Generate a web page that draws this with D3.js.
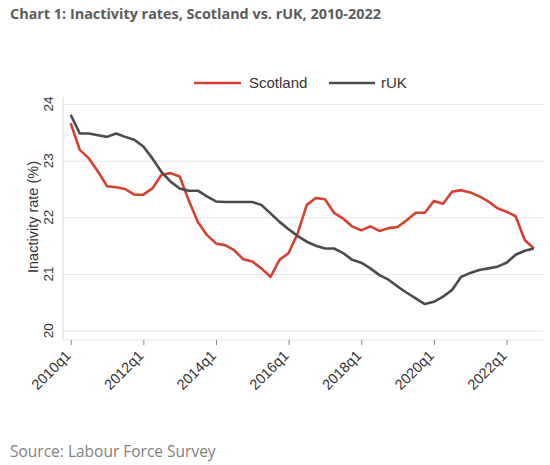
<!DOCTYPE html>
<html>
<head>
<meta charset="utf-8">
<script src="https://cdn.jsdelivr.net/npm/d3@7"></script>
<style>
  html, body { margin: 0; padding: 0; background: #fff; }
  svg { display: block; }
</style>
</head>
<body>
<svg id="chart" width="550" height="465"></svg>
<script>
const quarters = [
  "2010q1","2010q2","2010q3","2010q4","2011q1","2011q2","2011q3","2011q4",
  "2012q1","2012q2","2012q3","2012q4","2013q1","2013q2","2013q3","2013q4",
  "2014q1","2014q2","2014q3","2014q4","2015q1","2015q2","2015q3","2015q4",
  "2016q1","2016q2","2016q3","2016q4","2017q1","2017q2","2017q3","2017q4",
  "2018q1","2018q2","2018q3","2018q4","2019q1","2019q2","2019q3","2019q4",
  "2020q1","2020q2","2020q3","2020q4","2021q1","2021q2","2021q3","2021q4",
  "2022q1","2022q2","2022q3","2022q4"
];
const scotland = [
  23.66, 23.19, 23.04, 22.81, 22.55, 22.53, 22.50, 22.40,
  22.40, 22.51, 22.75, 22.78, 22.72, 22.30, 21.92, 21.69,
  21.54, 21.51, 21.42, 21.26, 21.22, 21.10, 20.95, 21.25,
  21.37, 21.72, 22.22, 22.34, 22.32, 22.08, 21.98, 21.84,
  21.77, 21.84, 21.76, 21.81, 21.83, 21.95, 22.08, 22.08,
  22.29, 22.24, 22.45, 22.48, 22.44, 22.37, 22.28, 22.16,
  22.10, 22.02, 21.60, 21.45
];
const rUK = [
  23.81, 23.48, 23.48, 23.45, 23.42, 23.48, 23.42, 23.37,
  23.25, 23.04, 22.80, 22.63, 22.51, 22.47, 22.47, 22.37,
  22.28, 22.27, 22.27, 22.27, 22.27, 22.22, 22.07, 21.92,
  21.79, 21.67, 21.57, 21.50, 21.45, 21.45, 21.37, 21.25,
  21.20, 21.10, 20.98, 20.90, 20.78, 20.67, 20.57, 20.47,
  20.51, 20.60, 20.72, 20.95, 21.02, 21.07, 21.10, 21.13,
  21.20, 21.34, 21.41, 21.45
];
const xTickLabels = ["2010q1","2012q1","2014q1","2016q1","2018q1","2020q1","2022q1"];
const yTickValues = [20, 21, 22, 23, 24];
const seriesNames = ["Scotland", "rUK"];
const seriesColors = ["#d5402f", "#4b4b4b"];

const svg = d3.select("#chart");
const plotLeft = 63, plotRight = 543, plotTop = 97, plotBottom = 340;

const x = d3.scalePoint().domain(quarters).range([70.7, 533.8]);
const y = d3.scaleLinear().domain([20, 24]).range([330.7, 104]);

// Title
svg.append("text")
  .attr("x", 10).attr("y", 19)
  .attr("font-family", "'Open Sans', sans-serif")
  .attr("font-weight", "bold")
  .attr("font-size", 14.4)
  .attr("fill", "#5b5b5b")
  .text("Chart 1: Inactivity rates, Scotland vs. rUK, 2010-2022");

// Gridlines
const grid = svg.append("g")
  .attr("transform", `translate(${plotLeft},0)`)
  .call(d3.axisLeft(y).tickValues(yTickValues).tickSize(-(plotRight - plotLeft)).tickFormat(""));
grid.select(".domain").remove();
grid.selectAll("line").attr("stroke", "#e6e6e6").attr("stroke-width", 1);

// Axis lines
svg.append("line")
  .attr("x1", plotLeft).attr("x2", plotLeft)
  .attr("y1", plotTop).attr("y2", plotBottom)
  .attr("stroke", "#d9d9d9").attr("stroke-width", 1);
svg.append("line")
  .attr("x1", plotLeft).attr("x2", plotRight)
  .attr("y1", plotBottom).attr("y2", plotBottom)
  .attr("stroke", "#e6e6e6").attr("stroke-width", 1);

// Y tick labels (rotated)
svg.append("g").selectAll("text")
  .data(yTickValues)
  .join("text")
  .attr("transform", d => `translate(48,${y(d)}) rotate(-90)`)
  .attr("text-anchor", "middle")
  .attr("dy", "0.35em")
  .attr("font-family", "'Liberation Sans', Arial, sans-serif")
  .attr("font-size", 13.5)
  .attr("fill", "#333")
  .text(d => d);

// Y axis title
svg.append("text")
  .attr("transform", `translate(33,217) rotate(-90)`)
  .attr("text-anchor", "middle")
  .attr("dy", "0.35em")
  .attr("font-family", "'Liberation Sans', Arial, sans-serif")
  .attr("font-size", 14.5)
  .attr("fill", "#333")
  .text("Inactivity rate (%)");

// X axis
const xAxis = svg.append("g")
  .attr("transform", `translate(0,${plotBottom})`)
  .call(d3.axisBottom(x).tickValues(xTickLabels).tickSize(5).tickSizeOuter(0));
xAxis.select(".domain").remove();
xAxis.selectAll("line").attr("stroke", "#888");
xAxis.selectAll("text")
  .attr("font-family", "'Liberation Sans', Arial, sans-serif")
  .attr("font-size", 14.5)
  .attr("fill", "#333")
  .attr("text-anchor", "end")
  .attr("x", 0).attr("y", 0).attr("dy", "0.35em")
  .attr("transform", "translate(-3,13) rotate(-45)");

// Lines
const line = d3.line()
  .x((d, i) => x(quarters[i]))
  .y(d => y(d));

[scotland, rUK].forEach((s, k) => {
  svg.append("path")
    .datum(s)
    .attr("fill", "none")
    .attr("stroke", seriesColors[k])
    .attr("stroke-width", 2.6)
    .attr("stroke-linejoin", "round")
    .attr("d", line);
});

// Legend
const legendItems = [
  { x1: 194, x2: 241, tx: 249 },
  { x1: 329, x2: 375, tx: 381 }
];
legendItems.forEach((it, k) => {
  svg.append("line")
    .attr("x1", it.x1).attr("x2", it.x2)
    .attr("y1", 83).attr("y2", 83)
    .attr("stroke", seriesColors[k]).attr("stroke-width", 2.6);
  svg.append("text")
    .attr("x", it.tx).attr("y", 83).attr("dy", "0.35em")
    .attr("font-family", "'Liberation Sans', Arial, sans-serif")
    .attr("font-size", 15)
    .attr("fill", "#333")
    .text(seriesNames[k]);
});

// Source
svg.append("text")
  .attr("x", 10).attr("y", 457)
  .attr("font-family", "'Open Sans', sans-serif")
  .attr("font-size", 15.5)
  .attr("fill", "#808080")
  .text("Source: Labour Force Survey");
</script>
</body>
</html>
